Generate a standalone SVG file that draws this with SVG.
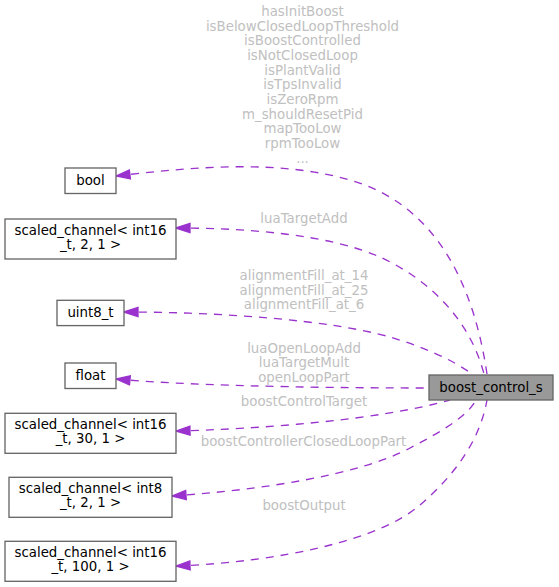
<svg xmlns="http://www.w3.org/2000/svg" width="559" height="587" viewBox="0 0 559 587">
<style>
text { font-family: "DejaVu Sans", "Liberation Sans", sans-serif; font-size: 13.33px; text-anchor: middle; }
.node rect { fill: #ffffff; stroke: #666666; stroke-width: 1.33; }
.node text { fill: #000000; }
#n_main rect { fill: #999999; }
.edge { fill: none; stroke: #9a32cd; stroke-width: 1.33; stroke-dasharray: 8,7; marker-start: url(#arr); }
.lbl { fill: #c0c0c0; }
</style>
<defs>
<marker id="arr" markerUnits="userSpaceOnUse" markerWidth="16" markerHeight="12" viewBox="0 0 16 12" refX="15" refY="6" orient="auto-start-reverse">
<path d="M1,1.5 L15,6 L1,10.5 z" fill="#9a32cd" stroke="#9a32cd" stroke-width="1.33"/>
</marker>
</defs>
<rect width="559" height="587" fill="#ffffff"/>

<g id="connectors">
<path class="edge" d="M116,176 C 200,166 280,160 350,180 C 420,200 470,260 487,374"/>
<path class="edge" d="M176,228 C 250,228 330,235 380,257 C 430,280 470,320 484,374"/>
<path class="edge" d="M124,312 C 220,312 330,320 390,337 C 420,346 450,358 472,374"/>
<path class="edge" d="M116,379 C 180,385 300,388 429,388"/>
<path class="edge" d="M176,431 C 260,429 380,420 450,400"/>
<path class="edge" d="M172,496 C 260,490 360,475 410,448 C 445,430 468,415 476,400"/>
<path class="edge" d="M176,566 C 280,562 380,540 420,505 C 455,475 480,440 487,400"/>
</g>

<g id="labels" class="lbl">
<text class="lbl" x="302.5" y="16">hasInitBoost</text>
<text class="lbl" x="302.5" y="30.7">isBelowClosedLoopThreshold</text>
<text class="lbl" x="302.5" y="45.3">isBoostControlled</text>
<text class="lbl" x="302.5" y="60">isNotClosedLoop</text>
<text class="lbl" x="302.5" y="74.7">isPlantValid</text>
<text class="lbl" x="302.5" y="89.3">isTpsInvalid</text>
<text class="lbl" x="302.5" y="104">isZeroRpm</text>
<text class="lbl" x="302.5" y="118.7">m_shouldResetPid</text>
<text class="lbl" x="302.5" y="133.3">mapTooLow</text>
<text class="lbl" x="302.5" y="148">rpmTooLow</text>
<text class="lbl" x="302.5" y="162.7">...</text>
<text class="lbl" x="304" y="223">luaTargetAdd</text>
<text class="lbl" x="304" y="280">alignmentFill_at_14</text>
<text class="lbl" x="304" y="294.7">alignmentFill_at_25</text>
<text class="lbl" x="304" y="309.3">alignmentFill_at_6</text>
<text class="lbl" x="304" y="352.7">luaOpenLoopAdd</text>
<text class="lbl" x="304" y="367.3">luaTargetMult</text>
<text class="lbl" x="304" y="382">openLoopPart</text>
<text class="lbl" x="304" y="406">boostControlTarget</text>
<text class="lbl" x="303.5" y="446">boostControllerClosedLoopPart</text>
<text class="lbl" x="304" y="510">boostOutput</text>
</g>

<g id="n_main" class="node">
<rect x="429" y="375" width="124" height="25"/>
<text x="491" y="391.7">boost_control_s</text>
</g>
<g id="n_bool" class="node">
<rect x="65" y="168" width="51" height="25.5"/>
<text x="90.5" y="185">bool</text>
</g>
<g id="n_sc_int16_2_1" class="node">
<rect x="5" y="219" width="171" height="40"/>
<text x="90.5" y="235">scaled_channel&lt; int16</text>
<text x="90.5" y="249">_t, 2, 1 &gt;</text>
</g>
<g id="n_uint8" class="node">
<rect x="57" y="300.3" width="67" height="25.3"/>
<text x="90.5" y="317.3">uint8_t</text>
</g>
<g id="n_float" class="node">
<rect x="65" y="363" width="51" height="25.5"/>
<text x="90.5" y="380">float</text>
</g>
<g id="n_sc_int16_30_1" class="node">
<rect x="5" y="413.3" width="171" height="40"/>
<text x="90.5" y="429.2">scaled_channel&lt; int16</text>
<text x="90.5" y="443.2">_t, 30, 1 &gt;</text>
</g>
<g id="n_sc_int8_2_1" class="node">
<rect x="9" y="477.3" width="163" height="40"/>
<text x="90.5" y="493.2">scaled_channel&lt; int8</text>
<text x="90.5" y="507.2">_t, 2, 1 &gt;</text>
</g>
<g id="n_sc_int16_100_1" class="node">
<rect x="5" y="541.3" width="171" height="40"/>
<text x="90.5" y="557.2">scaled_channel&lt; int16</text>
<text x="90.5" y="571.2">_t, 100, 1 &gt;</text>
</g>
</svg>
